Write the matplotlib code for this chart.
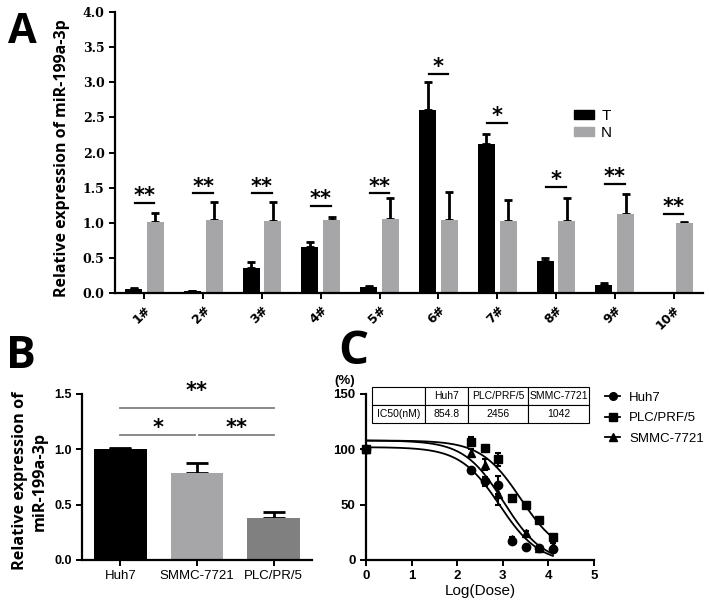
import numpy as np
import matplotlib.pyplot as plt
from matplotlib.lines import Line2D
from matplotlib.patches import Patch

# ---- panel A data ----
samples = ['1#', '2#', '3#', '4#', '5#', '6#', '7#', '8#', '9#', '10#']
t_vals = [0.06, 0.025, 0.355, 0.65, 0.08, 2.61, 2.12, 0.455, 0.12, 0.0]
t_err = [0.015, 0.005, 0.085, 0.08, 0.015, 0.39, 0.15, 0.04, 0.02, 0.0]
n_vals = [1.01, 1.04, 1.03, 1.04, 1.06, 1.04, 1.02, 1.02, 1.12, 0.995]
n_err = [0.13, 0.26, 0.26, 0.04, 0.29, 0.40, 0.31, 0.33, 0.29, 0.015]
sig_y = [1.28, 1.42, 1.42, 1.24, 1.42, 3.12, 2.42, 1.51, 1.55, 1.13]
sig_txt = ['**', '**', '**', '**', '**', '*', '*', '*', '**', '**']

# ---- panel B data ----
cells = ['Huh7', 'SMMC-7721', 'PLC/PR/5']
cell_vals = [1.0, 0.79, 0.38]
cell_err = [0.01, 0.09, 0.05]

# ---- panel C data ----
log_dose = [0, 2.3, 2.6, 2.9, 3.2, 3.5, 3.8, 4.1]
huh7 = [100, 81, 71, 68, 17, 12, 11, 10]
huh7_err = [0, 2, 4, 8, 2, 1, 1, 1]
plc = [100, 107, 101, 91, 56, 50, 36, 21]
plc_err = [0, 4, 2, 6, 2, 2, 2, 2]
smmc = [100, 97, 86, 60, 19, 24, 11, 13]
smmc_err = [0, 3, 5, 10, 2, 2, 1, 2]
ic50 = [854.8, 2456, 1042]
fit_top = [102, 108, 108]
fit_bottom = [-3, 3, -3]

BLACK = '#000000'
GREY = '#a6a6a8'
DGREY = '#808080'

fig = plt.figure(figsize=(7.09, 6.05), dpi=100)
W, H = 709.0, 605.0


def px_axes(l, t, r, b):
    return fig.add_axes([l / W, 1 - b / H, (r - l) / W, (b - t) / H])


def style(ax):
    for s in ['top', 'right']:
        ax.spines[s].set_visible(False)
    for s in ['left', 'bottom']:
        ax.spines[s].set_linewidth(1.6)
    ax.tick_params(direction='out', length=4, width=1.4)


# ================= A =================
axa = px_axes(115, 12, 703, 293)
style(axa)
x = np.arange(len(samples))
bw = 0.29
off = 0.185
axa.bar(x - off, t_vals, bw, color=BLACK, zorder=2)
axa.bar(x + off, n_vals, bw, color=GREY, zorder=2)
axa.errorbar(x - off, t_vals, yerr=[np.zeros(len(x)), t_err], fmt='none',
             ecolor=BLACK, elinewidth=2, capsize=3, capthick=2, zorder=1)
axa.errorbar(x + off, n_vals, yerr=[np.zeros(len(x)), n_err], fmt='none',
             ecolor=BLACK, elinewidth=2, capsize=3, capthick=2, zorder=1)
for i in range(len(x)):
    axa.plot([x[i] - 0.165, x[i] + 0.165], [sig_y[i], sig_y[i]], color='k', lw=1.6)
    axa.text(x[i], sig_y[i] + 0.01, sig_txt[i], ha='center', va='baseline',
             fontsize=15, fontweight='bold')
axa.set_xlim(-0.5, 9.5)
axa.set_ylim(0, 4.0)
axa.set_yticks(np.arange(0, 4.01, 0.5))
axa.set_yticklabels(['%.1f' % v for v in np.arange(0, 4.01, 0.5)],
                    family='DejaVu Serif', fontweight='bold', fontsize=9)
axa.set_xticks(x)
axa.set_xticklabels(samples, rotation=45, ha='right', rotation_mode='anchor',
                    fontweight='bold', fontsize=9)
axa.legend(handles=[Patch(color=BLACK, label='T'), Patch(color=GREY, label='N')],
           loc='upper left', bbox_to_anchor=(0.78, 0.655), frameon=False,
           handlelength=1.35, handleheight=0.6, handletextpad=0.45,
           borderpad=0, borderaxespad=0, labelspacing=0.2,
           prop={'family': 'Liberation Sans', 'size': 11})
fig.text(62 / W, 1 - 158 / H, 'Relative expression of miR-199a-3p', rotation=90,
         ha='center', va='center', family='Open Sans', fontweight='bold', fontsize=11.5)
fig.text(8 / W, 1 - 43 / H, 'A', family='Open Sans', fontweight='bold', fontsize=30)

# ================= B =================
axb = px_axes(82, 394, 312, 560)
style(axb)
xb = np.arange(len(cells))
axb.bar(xb, cell_vals, 0.69, color=[BLACK, GREY, DGREY], zorder=2)
axb.errorbar(xb, cell_vals, yerr=[np.zeros(3), cell_err], fmt='none',
             ecolor=BLACK, elinewidth=2, capsize=8, capthick=2, zorder=1)
axb.set_xlim(-0.5, 2.5)
axb.set_ylim(0, 1.5)
axb.set_yticks([0, 0.5, 1.0, 1.5])
axb.set_yticklabels(['0.0', '0.5', '1.0', '1.5'], family='Liberation Sans',
                    fontweight='bold', fontsize=9)
axb.set_xticks(xb)
axb.set_xticklabels(cells, family='Liberation Sans', fontsize=9.5)
# significance brackets: (start, end, line y, star baseline, label)
for (a, b, y, ys, s) in [(0, 2, 1.37, 1.47, '**'), (0, 0.98, 1.13, 1.135, '*'),
                         (1.02, 2, 1.13, 1.135, '**')]:
    axb.plot([a, b], [y, y], color=DGREY, lw=1.3, clip_on=False)
    axb.text((a + b) / 2, ys, s, ha='center', va='baseline',
             fontsize=15, fontweight='bold', clip_on=False)
fig.text(30 / W, 1 - 481 / H, 'Relative expression of\nmiR-199a-3p', rotation=90,
         ha='center', va='center', family='Open Sans', fontweight='bold',
         fontsize=11.7, linespacing=1.3, multialignment='center')
fig.text(6 / W, 1 - 368 / H, 'B', family='Open Sans', fontweight='bold', fontsize=32)

# ================= C =================
axc = px_axes(366, 394, 594, 560)
style(axc)
xs = np.linspace(0, 4.1, 200)
series = [(huh7, huh7_err, 'o', 'Huh7'), (plc, plc_err, 's', 'PLC/PRF/5'),
          (smmc, smmc_err, '^', 'SMMC-7721')]
for k, (vals, err, mk, lab) in enumerate(series):
    lic = np.log10(ic50[k])
    fit = fit_bottom[k] + (fit_top[k] - fit_bottom[k]) / (1 + 10 ** (xs - lic))
    axc.plot(xs, fit, color='k', lw=1.3)
    axc.errorbar(log_dose, vals, yerr=err, fmt=mk, color='k', ms=6,
                 elinewidth=1.5, capsize=2.5, capthick=1.5, clip_on=False)
axc.set_xlim(0, 5)
axc.set_ylim(0, 150)
axc.set_xticks(range(6))
axc.set_xticklabels([str(i) for i in range(6)], family='Liberation Sans',
                    fontweight='bold', fontsize=9.5)
axc.set_yticks([0, 50, 100, 150])
axc.set_yticklabels(['0', '50', '100', '150'], family='Liberation Sans',
                    fontweight='bold', fontsize=9.5)
axc.set_xlabel('Log(Dose)', family='Liberation Sans', fontsize=11, labelpad=1)
axc.text(-0.095, 1.08, '(%)', transform=axc.transAxes, ha='center', va='center',
         family='Liberation Sans', fontweight='bold', fontsize=9.5)
tbl = axc.table(cellText=[['', 'Huh7', 'PLC/PRF/5', 'SMMC-7721'],
                          ['IC50(nM)', '%.1f' % ic50[0], '%d' % ic50[1], '%d' % ic50[2]]],
                colWidths=[53, 43, 60, 61], cellLoc='center',
                bbox=[0.026, 0.825, 0.952, 0.217])
tbl.auto_set_font_size(False)
tbl.set_fontsize(7.5)
for c in tbl.get_celld().values():
    c.set_linewidth(0.8)
    c.get_text().set_family('Liberation Sans')
tbl.set_clip_on(False)
axc.legend(handles=[Line2D([], [], color='k', marker=m, lw=1.3, ms=5.5, label=l)
                    for (_, _, m, l) in series],
           loc='upper left', bbox_to_anchor=(1.05, 1.015), frameon=False,
           handlelength=1.1, handletextpad=0.7, labelspacing=0.62,
           borderpad=0, borderaxespad=0,
           prop={'family': 'Liberation Sans', 'size': 9.5})
fig.text(338 / W, 1 - 364 / H, 'C', family='Open Sans', fontweight='bold', fontsize=34)

fig.savefig('out.png', dpi=100)
